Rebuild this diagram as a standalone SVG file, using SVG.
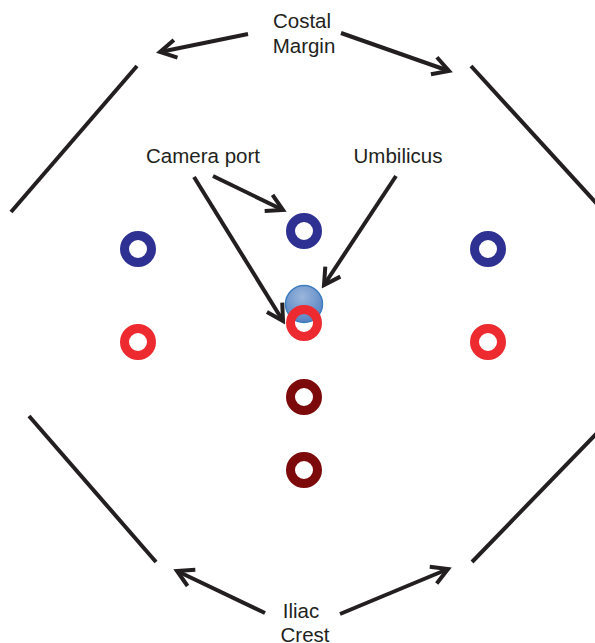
<svg xmlns="http://www.w3.org/2000/svg" width="595" height="643" viewBox="0 0 595 643">
<style>
.edge{stroke:#231f20;stroke-width:4;fill:none;stroke-linecap:butt}
.arr{stroke:#231f20;stroke-width:4;fill:none;marker-end:url(#ah)}
.lbl{font-family:"Liberation Sans",Arial,sans-serif;font-size:20.5px;fill:#231f20;text-anchor:middle}
.blue{fill:none;stroke:#2e3192;stroke-width:9}
.red{fill:none;stroke:#ed2a2f;stroke-width:9}
.dred{fill:none;stroke:#7d0a0a;stroke-width:9}
</style>
<defs>
<marker id="ah" markerUnits="userSpaceOnUse" viewBox="-20 -12 24 24" markerWidth="24" markerHeight="24" refX="0" refY="0" orient="auto">
<path d="M -16 -9 L 0 0 L -16 9" fill="none" stroke="#231f20" stroke-width="4" stroke-linejoin="miter"/>
</marker>
<radialGradient id="ug" cx="0.45" cy="0.3" r="0.75">
<stop offset="0" stop-color="#9bb6dc"/>
<stop offset="1" stop-color="#4f7fc0"/>
</radialGradient>
</defs>
<g id="boundary">
<line class="edge" x1="11" y1="212" x2="137" y2="66"/>
<line class="edge" x1="471" y1="66" x2="597" y2="204"/>
<line class="edge" x1="29" y1="416" x2="156" y2="562"/>
<line class="edge" x1="472" y1="562" x2="597" y2="433"/>
</g>
<g id="connectors">
<line class="arr" x1="248" y1="34" x2="160" y2="52"/>
<line class="arr" x1="341" y1="33" x2="449" y2="71"/>
<line class="arr" x1="213" y1="176" x2="283" y2="210"/>
<line class="arr" x1="194" y1="177" x2="283" y2="321"/>
<line class="arr" x1="396" y1="176" x2="324" y2="285"/>
<line class="arr" x1="265" y1="613" x2="177" y2="571"/>
<line class="arr" x1="340" y1="614" x2="448" y2="569"/>
</g>
<g id="label-costal"><text class="lbl" x="302" y="28">Costal</text><text class="lbl" x="304" y="53">Margin</text></g>
<g id="label-camera"><text class="lbl" x="203" y="163">Camera port</text></g>
<g id="label-umbilicus"><text class="lbl" x="398" y="163">Umbilicus</text></g>
<g id="label-iliac"><text class="lbl" x="301" y="618">Iliac</text><text class="lbl" x="305" y="642">Crest</text></g>
<g id="port-left-blue"><circle class="blue" cx="138" cy="249" r="13.5"/></g>
<g id="port-left-red"><circle class="red" cx="138" cy="342" r="13.5"/></g>
<g id="port-right-blue"><circle class="blue" cx="488" cy="249" r="13.5"/></g>
<g id="port-right-red"><circle class="red" cx="488" cy="342" r="13.5"/></g>
<g id="port-center-blue"><circle class="blue" cx="304" cy="231" r="13.5"/></g>
<g id="umbilicus"><circle cx="304" cy="304" r="18.5" fill="url(#ug)" stroke="#3c7dc0" stroke-width="1.5"/></g>
<g id="port-center-red"><circle class="red" cx="304" cy="323" r="13.5"/></g>
<g id="port-dred-1"><circle class="dred" cx="304" cy="397" r="13.5"/></g>
<g id="port-dred-2"><circle class="dred" cx="304" cy="470" r="13.5"/></g>
</svg>
